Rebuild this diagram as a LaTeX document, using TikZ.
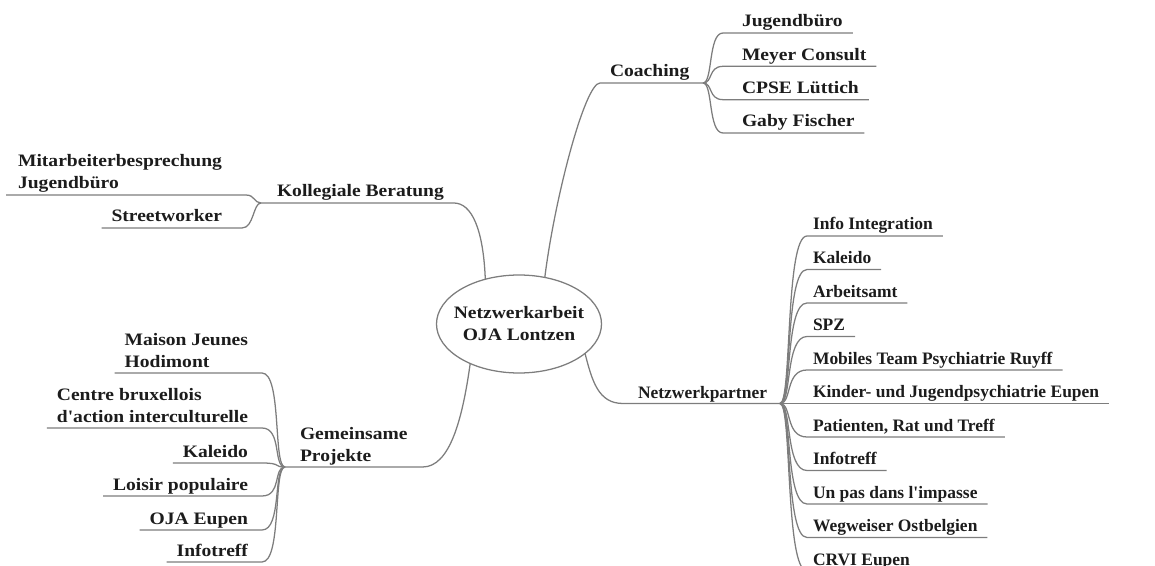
\documentclass[tikz,border=0pt]{standalone}
\usepackage{fontspec}
\setmainfont{Liberation Serif}
\newfontfamily\widefont{Liberation Serif}[FakeStretch=1.12]
\newfontfamily\normfont{Liberation Serif}
\usetikzlibrary{shapes.geometric,calc}
\definecolor{linec}{RGB}{125,125,125}
\definecolor{txtc}{RGB}{28,28,28}
\newcommand\twol[2]{\begin{tabular}[b]{@{}l@{}}#1\\#2\end{tabular}}
\begin{document}
\begin{tikzpicture}[x=0.75pt,y=-0.75pt,
  lbl/.style={inner sep=0pt, outer sep=0pt, text=txtc, font=\fontsize{13.1pt}{16.5pt}\selectfont\normfont\bfseries},
  lblw/.style={inner sep=0pt, outer sep=0pt, text=txtc, font=\fontsize{13.1pt}{16.5pt}\selectfont\widefont\bfseries},
  ln/.style={draw=linec, line width=0.95pt},
  hub/.style={lblw, ellipse, draw=linec, line width=0.95pt, inner xsep=-6pt, inner ysep=0pt, minimum width=123.75pt, minimum height=73.5pt, align=center}
]
\useasboundingbox (0,0) rectangle (1155,566);

% centre
\node[hub] (c) at (519,324) {Netzwerkarbeit\\OJA Lontzen};

% Coaching
\node[lblw, anchor=base west] (co) at (610,77) {Coaching};
\coordinate (FC) at (703,83);
\draw[ln] (c.61) .. controls +(10,-80) and +(-15,0) .. ($(co.base west)+(-10,6)$) -- (FC);
\foreach \t [count=\i] in {Jugendbüro, Meyer Consult, CPSE Lüttich, Gaby Fischer}{
  \node[lblw, anchor=base west] (co\i) at (742, 27+33.33*\i-33.33) {\t};
  \draw[ln] (FC) .. controls +(10,0) and +(-15,0) .. ($(co\i.base west)+(-19,6)$) -- ($(co\i.base east)+(10,6)$);
}

% Kollegiale Beratung
\node[lblw, anchor=base west] (kb) at (277,197) {Kollegiale Beratung};
\coordinate (FK) at (261,203);
\draw[ln] (c.127) .. controls +(-2,-50) and +(18,0) .. ($(kb.base east)+(10,6)$) -- (FK);
\node[lblw, anchor=base east] (mi) at (222,189) {\twol{Mitarbeiterbesprechung}{Jugendbüro}};
\node[lblw, anchor=base east] (st) at (222,222) {Streetworker};
\coordinate (mi-s) at (246,195);
\coordinate (st-s) at (242,228);
\draw[ln] (FK) .. controls +(-7,0) and +(9,0) .. (mi-s) -- ($(mi.base west)+(-12,6)$);
\draw[ln] (FK) .. controls +(-8,0) and +(12,0) .. (st-s) -- ($(st.base west)+(-10,6)$);

% Netzwerkpartner
\node[lbl, anchor=base west] (nw) at (638,398) {Netzwerkpartner};
\coordinate (FN) at (780,403.5);
\draw[ln] (c.336) .. controls +(7,27) and +(-25,0) .. ($(nw.base west)+(-15,5.5)$) -- (FN);
\foreach \t [count=\i] in {Info Integration, Kaleido, Arbeitsamt, SPZ, Mobiles Team Psychiatrie Ruyff, Kinder- und Jugendpsychiatrie Eupen, {Patienten, Rat und Treff}, Infotreff, Un pas dans l'impasse, Wegweiser Ostbelgien, CRVI Eupen}{
  \node[lbl, anchor=base west] (n\i) at (813, 230+33.5*\i-33.5) {\t};
  \draw[ln] (FN) .. controls +(12,0) and +(-22,0) .. ($(n\i.base west)+(-6,6)$) -- ($(n\i.base east)+(10,6)$);
}

% Gemeinsame Projekte
\node[lblw, anchor=base west] (gp) at (300,461) {\twol{Gemeinsame}{Projekte}};
\coordinate (FG) at (285,467);
\draw[ln] (c.219) .. controls +(-8,57) and +(27,0) .. ($(gp.base east)+(15,6)$) -- (FG);
\node[lblw, anchor=base east] (g1) at (248,367) {\twol{Maison Jeunes}{Hodimont}};
\node[lblw, anchor=base east] (g2) at (248,422) {\twol{Centre bruxellois}{d'action interculturelle}};
\node[lblw, anchor=base east] (g3) at (248,457) {Kaleido};
\node[lblw, anchor=base east] (g4) at (248,490) {Loisir populaire};
\node[lblw, anchor=base east] (g5) at (248,524) {OJA Eupen};
\node[lblw, anchor=base east] (g6) at (248,556) {Infotreff};
\foreach \i in {1,...,6}{
  \draw[ln] (FG) .. controls +(-12,0) and +(20,0) .. ($(g\i.base east)+(14,6)$) -- ($(g\i.base west)+(-10,6)$);
}
\end{tikzpicture}
\end{document}
